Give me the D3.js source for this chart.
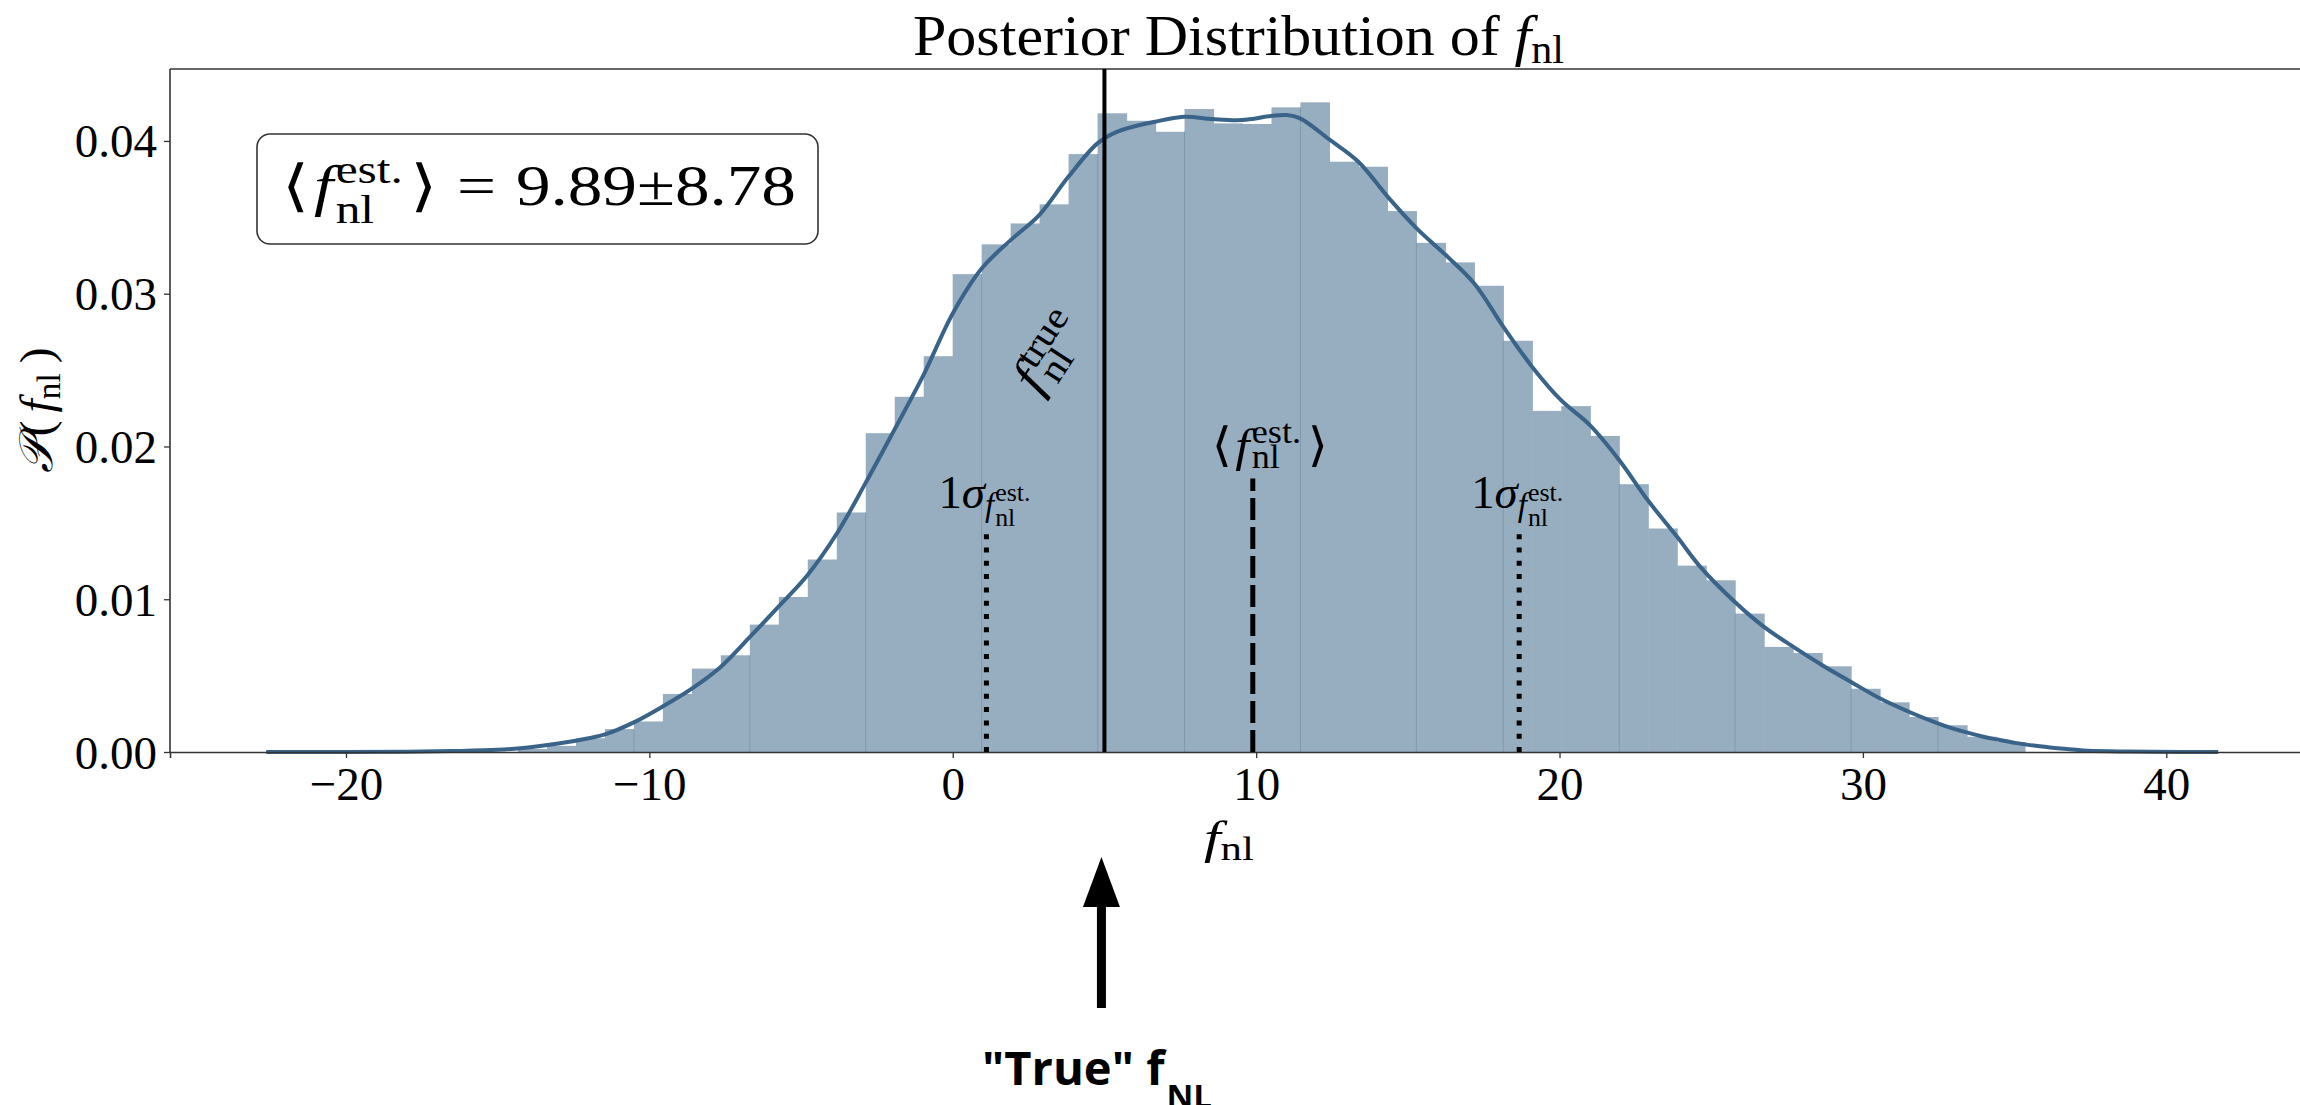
<!DOCTYPE html>
<html>
<head>
<meta charset="utf-8">
<script src="https://cdn.jsdelivr.net/npm/d3@7"></script>
<style>
  html, body { margin: 0; padding: 0; background: #fff; overflow: hidden; }
  svg { display: block; }
</style>
</head>
<body>
<script>
// ---- Histogram of f_nl posterior samples (density per bin) ----
const binStart = -14.33;   // lower edge of the first bin
const binWidth = 0.9552;
const binDensity = [
  0.0002, 0.0004, 0.0009, 0.0015, 0.0020, 0.0038, 0.00546, 0.00633, 0.00834, 0.01015,
  0.0126, 0.01568, 0.02087, 0.02325, 0.02591, 0.03128, 0.03323, 0.0346, 0.03585, 0.03914,
  0.04181, 0.04132, 0.0406, 0.04209, 0.04115, 0.04111, 0.0422, 0.04253, 0.03864, 0.03831,
  0.03541, 0.03333, 0.03205, 0.03052, 0.02692, 0.02233, 0.02264, 0.02069, 0.01753, 0.01463,
  0.0122, 0.01124, 0.00906, 0.00688, 0.00648, 0.00561, 0.00414, 0.00325, 0.00229, 0.00175,
  0.0010, 0.00065
];
// bin edges (by bin index) where a faint seam shows between bars
const seamEdges = [4, 8, 12, 16, 20, 23, 27, 31, 34, 38, 42, 46, 49];

// ---- Kernel density estimate ----
const kdeX = [
  -22.63, -20, -18, -16.5, -15.0, -14.0, -13.0, -12.0, -11.46, -10.53, -9.56, -8.60, -7.65,
  -6.70, -5.75, -4.79, -3.82, -2.89, -1.93, -0.97, 0.0, 0.96, 1.91, 2.85, 3.81, 4.77, 5.41,
  6.67, 7.63, 8.57, 9.53, 10.49, 11.0, 11.45, 12.41, 13.37, 14.34, 15.29, 16.25, 17.19, 18.15,
  19.10, 20.05, 21.0, 21.97, 22.91, 23.87, 24.64, 25.78, 26.74, 27.71, 28.66, 29.61, 30.57,
  31.53, 32.49, 32.87, 33.42, 33.97, 34.39, 35.07, 35.34, 36.17, 36.72, 37.26, 38.37, 39.5, 41.71
];
const kdeY = [
  0.0, 0.0, 0.00002, 0.00006, 0.00014, 0.0003, 0.00055, 0.0009, 0.00115, 0.00192, 0.00298,
  0.00415, 0.00557, 0.0075, 0.0095, 0.01157, 0.0143, 0.01755, 0.02107, 0.02465, 0.02871,
  0.03166, 0.03351, 0.03515, 0.03765, 0.03984, 0.0406, 0.04126, 0.04158, 0.04143, 0.04137,
  0.04163, 0.0417, 0.04148, 0.0401, 0.03864, 0.03634, 0.03428, 0.03253, 0.03067, 0.02783,
  0.02521, 0.02303, 0.0214, 0.0191, 0.01648, 0.0141, 0.01212, 0.00982, 0.00819, 0.00688,
  0.00568, 0.00458, 0.0035, 0.00262, 0.00186, 0.0016, 0.00128, 0.001, 0.00083, 0.00058,
  0.0005, 0.00029, 0.0002, 0.0001, 0.00004, 0.00001, 0.0
];

// ---- Reference values ----
const fnlTrue = 5.0;
const fnlMean = 9.89;
const fnlSigma = 8.78;
const meanLineTop = 0.0179;
const sigmaLineTop = 0.0147;

// ---- Axes ----
const xDomain = [-25.8, 45.0];
const yDomain = [0, 0.04471];
const xTicks = [-20, -10, 0, 10, 20, 30, 40];
const yTicks = [0.00, 0.01, 0.02, 0.03, 0.04];
const titleText = 'Posterior Distribution of';

const W = 2300, H = 1105;
const plot = { left: 170, right: 2318, top: 69, bottom: 752 };

const SERIF = '"Liberation Serif","Times New Roman","DejaVu Serif",serif';
const BRACKET = '"DejaVu Serif","DejaVu Sans","Liberation Serif",serif';
const SANS = '"Open Sans","Lato","Roboto",sans-serif';
const BAR = '#97adc0';
const LINE = '#3a6389';
const SEAM = '#8299ad';
const AXIS = '#333';

const svg = d3.select('body').append('svg')
  .attr('width', W).attr('height', H)
  .attr('viewBox', `0 0 ${W} ${H}`);

svg.append('rect').attr('width', W).attr('height', H).attr('fill', '#fff');

const x = d3.scaleLinear().domain(xDomain).range([plot.left, plot.right]);
const y = d3.scaleLinear().domain(yDomain).range([plot.bottom, plot.top]);

// Lay out a small run of math-style text pieces (sub/superscripts stacked)
function mathText(parent, pieces, o) {
  const g = parent.append('g')
    .attr('transform', `translate(${o.x},${o.y})` + (o.rot ? ` rotate(${o.rot})` : ''));
  const inner = g.append('g');
  let cx = 0, start = 0, adv = 0;
  pieces.forEach(p => {
    const t = inner.append('text')
      .attr('font-family', p.family || SERIF)
      .attr('font-size', p.s)
      .attr('font-style', p.it ? 'italic' : 'normal')
      .attr('font-weight', p.w || 'normal')
      .attr('fill', o.fill || '#000')
      .attr('y', p.dy || 0)
      .text(p.t);
    const w = t.node().getComputedTextLength();
    if (p.stack) {
      t.attr('x', start);
      adv = Math.max(adv, w);
      cx = start + adv;
    } else {
      start = cx + (p.dx || 0);
      adv = w;
      t.attr('x', start);
      cx = start + w;
    }
  });
  const total = cx;
  const sx = o.width ? o.width / total : (o.sx || 1);
  const shift = o.anchor === 'middle' ? -total * sx / 2 : o.anchor === 'end' ? -total * sx : 0;
  inner.attr('transform', `translate(${shift},0) scale(${sx},1)`);
  return g;
}

// ---- Histogram bars ----
const bins = binDensity.map((d, i) => ({
  x0: binStart + i * binWidth,
  x1: binStart + (i + 1) * binWidth,
  d
}));

svg.append('g').selectAll('rect').data(bins).join('rect')
  .attr('x', b => x(b.x0))
  .attr('width', b => x(b.x1) - x(b.x0) + 0.6)
  .attr('y', b => y(b.d))
  .attr('height', b => y(0) - y(b.d))
  .attr('fill', BAR);

// faint seams between some bars
svg.append('g').selectAll('line').data(seamEdges).join('line')
  .attr('x1', i => x(binStart + i * binWidth))
  .attr('x2', i => x(binStart + i * binWidth))
  .attr('y1', y(0))
  .attr('y2', i => y(Math.min(binDensity[i - 1], binDensity[i])))
  .attr('stroke', SEAM).attr('stroke-width', 1);

// ---- KDE curve ----
const kde = kdeX.map((v, i) => [v, kdeY[i]]);
svg.append('path')
  .datum(kde)
  .attr('fill', 'none')
  .attr('stroke', LINE)
  .attr('stroke-width', 4)
  .attr('stroke-linejoin', 'round')
  .attr('d', d3.line().x(d => x(d[0])).y(d => y(d[1])).curve(d3.curveCatmullRom.alpha(0.5)));

// ---- Spines ----
svg.append('line').attr('x1', plot.left).attr('x2', plot.left)
  .attr('y1', plot.top).attr('y2', plot.bottom).attr('stroke', AXIS).attr('stroke-width', 1.6);
svg.append('line').attr('x1', plot.left).attr('x2', plot.right)
  .attr('y1', plot.top).attr('y2', plot.top).attr('stroke', AXIS).attr('stroke-width', 1.6);
svg.append('line').attr('x1', plot.right).attr('x2', plot.right)
  .attr('y1', plot.top).attr('y2', plot.bottom).attr('stroke', AXIS).attr('stroke-width', 1.6);

// ---- Axes ----
const xAxis = d3.axisBottom(x).tickValues(xTicks).tickSize(6).tickPadding(10)
  .tickFormat(d3.format('d'));
const gx = svg.append('g').attr('transform', `translate(0,${plot.bottom})`).call(xAxis);
gx.select('.domain').attr('stroke', AXIS).attr('stroke-width', 1.6);
gx.selectAll('.tick line').attr('stroke', AXIS).attr('stroke-width', 1.3);
gx.selectAll('.tick text')
  .attr('font-family', SERIF).attr('font-size', 47).attr('fill', '#000')
  .attr('dy', null).attr('y', 48);

const yAxis = d3.axisLeft(y).tickValues(yTicks).tickSize(6).tickPadding(7)
  .tickFormat(d3.format('.2f'));
const gy = svg.append('g').attr('transform', `translate(${plot.left},0)`).call(yAxis);
gy.select('.domain').remove();
gy.selectAll('.tick line').attr('stroke', AXIS).attr('stroke-width', 1.3);
gy.selectAll('.tick text')
  .attr('font-family', SERIF).attr('font-size', 47).attr('fill', '#000')
  .attr('dy', null).attr('y', 16);

// ---- Reference lines ----
svg.append('line')
  .attr('x1', x(fnlTrue)).attr('x2', x(fnlTrue))
  .attr('y1', plot.bottom).attr('y2', plot.top)
  .attr('stroke', '#000').attr('stroke-width', 4);

svg.append('line')
  .attr('x1', x(fnlMean)).attr('x2', x(fnlMean))
  .attr('y1', y(0)).attr('y2', y(meanLineTop))
  .attr('stroke', '#000').attr('stroke-width', 5)
  .attr('stroke-dasharray', '22,7');

[fnlMean - fnlSigma, fnlMean + fnlSigma].forEach(v => {
  svg.append('line')
    .attr('x1', x(v)).attr('x2', x(v))
    .attr('y1', y(0)).attr('y2', y(sigmaLineTop))
    .attr('stroke', '#000').attr('stroke-width', 5)
    .attr('stroke-dasharray', '5,8.3');
  mathText(svg, [
    { t: '1', s: 47 },
    { t: 'σ', s: 47, it: true },
    { t: 'f', s: 33, it: true, dy: 8 },
    { t: 'est.', s: 26, dy: -7, dx: 1 },
    { t: 'nl', s: 26, dy: 18, stack: true }
  ], { x: x(v) - 2, y: y(sigmaLineTop) - 19, anchor: 'middle', width: 92 });
});

// label over the mean line
mathText(svg, [
  { t: '⟨', s: 47, family: BRACKET },
  { t: 'f', s: 47, it: true, dx: 3 },
  { t: 'est.', s: 33, dy: -18, dx: 2 },
  { t: 'nl', s: 33, dy: 7, stack: true },
  { t: '⟩', s: 47, dx: 6, family: BRACKET }
], { x: x(fnlMean) - 41, y: y(meanLineTop) - 18, width: 116 });

// rotated label beside the true-value line
mathText(svg, [
  { t: 'f', s: 52, it: true },
  { t: 'true', s: 37, dy: -17, dx: 3 },
  { t: 'nl', s: 37, dy: 10, stack: true }
], { x: x(fnlTrue) - 66, y: 396, rot: -57, sx: 1.12 });

// ---- Title and axis labels ----
mathText(svg, [
  { t: titleText, s: 57 },
  { t: 'f', s: 57, it: true, dx: 14 },
  { t: 'nl', s: 40, dy: 8 }
], { x: 913, y: 55, width: 651 });

mathText(svg, [
  { t: 'f', s: 46, it: true },
  { t: 'nl', s: 33, dy: 7 }
], { x: 1204, y: 853, width: 50 });

mathText(svg, [
  { t: '𝒫', s: 47, it: true },
  { t: '(', s: 47, dx: 2 },
  { t: 'f', s: 47, it: true, dx: 8 },
  { t: 'nl', s: 33, dy: 8 },
  { t: ')', s: 47, dx: 10 }
], { x: 52, y: 410, rot: -90, anchor: 'middle', width: 125 });

// ---- Summary box ----
svg.append('rect')
  .attr('x', 257).attr('y', 134).attr('width', 561).attr('height', 110)
  .attr('rx', 13).attr('ry', 13)
  .attr('fill', '#fff').attr('stroke', AXIS).attr('stroke-width', 1.6);

mathText(svg, [
  { t: '⟨', s: 56, family: BRACKET },
  { t: 'f', s: 56, it: true, dx: 4 },
  { t: 'est.', s: 40, dy: -22, dx: 2 },
  { t: 'nl', s: 40, dy: 18, stack: true },
  { t: '⟩', s: 56, dx: 6, family: BRACKET },
  { t: '=', s: 56, dx: 16 },
  { t: `${fnlMean.toFixed(2)}±${fnlSigma.toFixed(2)}`, s: 56, dx: 16 }
], { x: 282, y: 205, width: 514 });

// ---- Arrow pointing at the true value ----
const ax = x(fnlTrue) - 3;
svg.append('line')
  .attr('x1', ax).attr('x2', ax).attr('y1', 1008).attr('y2', 900)
  .attr('stroke', '#000').attr('stroke-width', 9);
svg.append('path')
  .attr('d', `M${ax},857 L${ax - 18.5},907 L${ax + 18.5},907 Z`)
  .attr('fill', '#000');

mathText(svg, [
  { t: '"True" f', s: 47, w: 700, family: SANS },
  { t: 'NL', s: 33, w: 700, dy: 23, dx: 2, family: SANS }
], { x: 982, y: 1085, width: 230 });
</script>
</body>
</html>
